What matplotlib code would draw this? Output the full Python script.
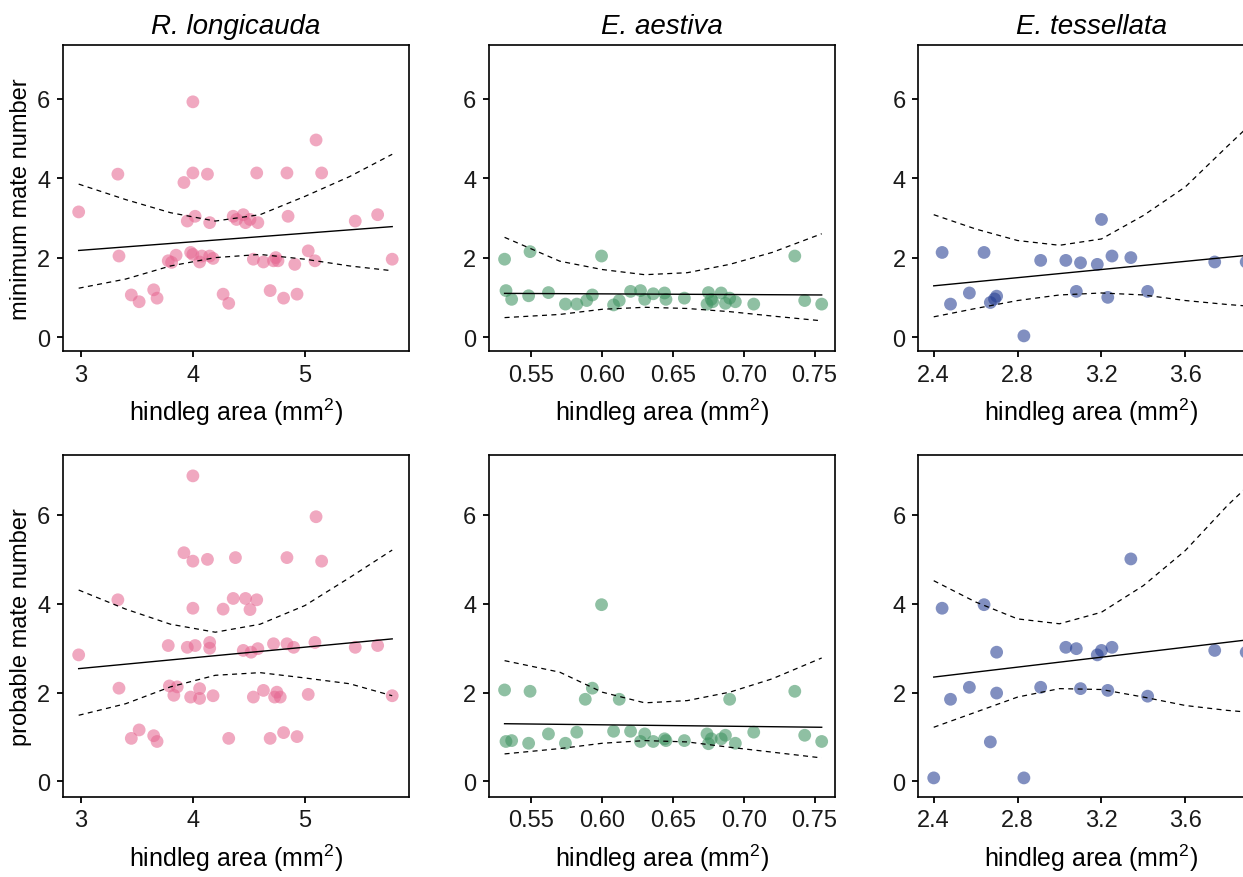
import matplotlib
matplotlib.use("Agg")
import matplotlib.pyplot as plt

plt.rcParams['font.family'] = ['Liberation Sans', 'DejaVu Sans']
plt.rcParams['mathtext.fontset'] = 'custom'
plt.rcParams['mathtext.rm'] = 'Liberation Sans'
plt.rcParams['mathtext.it'] = 'Liberation Sans:italic'

# species names (panel titles)
species = ["R. longicauda", "E. aestiva", "E. tessellata"]

# R. longicauda - minimum mate number
rl_min_x = [2.98, 3.33, 3.34, 3.45, 3.52, 3.65, 3.68, 3.78, 3.81, 3.85, 3.92, 3.95, 4.00, 4.00,
            4.02, 3.98, 4.00, 4.06, 4.08, 4.13, 4.15, 4.15, 4.18, 4.27, 4.32, 4.36, 4.39, 4.45,
            4.47, 4.51, 4.54, 4.57, 4.58, 4.63, 4.69, 4.72, 4.74, 4.76, 4.81, 4.84, 4.85, 4.91,
            4.93, 5.03, 5.09, 5.10, 5.15, 5.45, 5.65, 5.78]
rl_min_y = [3.15, 4.10, 2.04, 1.06, 0.89, 1.19, 0.98, 1.92, 1.88, 2.06, 3.89, 2.92, 5.92, 4.13,
            3.04, 2.13, 2.08, 1.89, 2.04, 4.10, 2.88, 2.04, 1.98, 1.08, 0.85, 3.04, 2.96, 3.08,
            2.88, 2.96, 1.96, 4.13, 2.88, 1.89, 1.17, 1.92, 2.00, 1.92, 0.98, 4.13, 3.04, 1.83,
            1.08, 2.17, 1.92, 4.96, 4.13, 2.92, 3.08, 1.96]

# R. longicauda - probable mate number
rl_prob_x = [2.98, 3.33, 3.34, 3.45, 3.52, 3.65, 3.68, 3.78, 3.79, 3.83, 3.86, 3.92, 3.95, 4.00,
             4.00, 4.00, 3.98, 4.02, 4.06, 4.06, 4.13, 4.15, 4.15, 4.18, 4.27, 4.32, 4.36, 4.38,
             4.45, 4.47, 4.51, 4.52, 4.54, 4.57, 4.58, 4.63, 4.69, 4.72, 4.73, 4.75, 4.78, 4.81,
             4.84, 4.84, 4.90, 4.93, 5.03, 5.09, 5.10, 5.15, 5.45, 5.65, 5.78]
rl_prob_y = [2.85, 4.09, 2.10, 0.97, 1.16, 1.03, 0.90, 3.06, 2.15, 1.94, 2.13, 5.15, 3.02, 6.88,
             4.96, 3.90, 1.90, 3.06, 2.09, 1.87, 5.00, 3.13, 3.00, 1.93, 3.88, 0.97, 4.12, 5.04,
             2.95, 4.12, 3.87, 2.91, 1.90, 4.09, 2.99, 2.05, 0.97, 3.10, 1.90, 2.01, 1.90, 1.10,
             5.04, 3.10, 3.02, 1.01, 1.96, 3.13, 5.96, 4.96, 3.02, 3.06, 1.93]

# E. aestiva - minimum mate number
ea_min_x = [0.531, 0.532, 0.536, 0.549, 0.548, 0.562, 0.574, 0.582, 0.589, 0.593, 0.5995, 0.608,
            0.612, 0.620, 0.627, 0.630, 0.636, 0.644, 0.645, 0.658, 0.675, 0.677, 0.674, 0.678,
            0.684, 0.687, 0.690, 0.694, 0.707, 0.736, 0.743, 0.755]
ea_min_y = [1.96, 1.17, 0.95, 2.15, 1.04, 1.12, 0.83, 0.83, 0.92, 1.06, 2.04, 0.81,
            0.92, 1.15, 1.17, 0.95, 1.09, 1.11, 0.95, 0.98, 1.12, 0.95, 0.83, 0.89,
            1.11, 0.85, 0.98, 0.89, 0.83, 2.04, 0.92, 0.83]

# E. aestiva - probable mate number
ea_prob_x = [0.531, 0.532, 0.536, 0.549, 0.548, 0.562, 0.574, 0.582, 0.588, 0.593, 0.5995, 0.608,
             0.612, 0.620, 0.627, 0.630, 0.636, 0.644, 0.645, 0.658, 0.674, 0.675, 0.677, 0.684,
             0.687, 0.690, 0.694, 0.707, 0.736, 0.743, 0.755]
ea_prob_y = [2.06, 0.90, 0.92, 2.03, 0.86, 1.07, 0.86, 1.11, 1.85, 2.10, 3.98, 1.13,
             1.85, 1.13, 0.90, 1.07, 0.90, 0.96, 0.92, 0.92, 1.07, 0.85, 0.96, 0.96,
             1.04, 1.85, 0.86, 1.11, 2.03, 1.04, 0.90]

# E. tessellata - minimum mate number
et_min_x = [2.44, 2.48, 2.57, 2.64, 2.67, 2.69, 2.70, 2.83, 2.91, 3.03, 3.08, 3.10, 3.18, 3.20,
            3.23, 3.25, 3.34, 3.42, 3.74, 3.89]
et_min_y = [2.13, 0.83, 1.11, 2.13, 0.87, 0.96, 1.03, 0.03, 1.93, 1.93, 1.15, 1.87, 1.83, 2.96,
            1.00, 2.04, 2.00, 1.15, 1.89, 1.89]

# E. tessellata - probable mate number
et_prob_x = [2.40, 2.44, 2.48, 2.57, 2.64, 2.67, 2.70, 2.70, 2.83, 2.91, 3.03, 3.08, 3.10, 3.18,
             3.20, 3.23, 3.25, 3.34, 3.42, 3.74, 3.89]
et_prob_y = [0.08, 3.90, 1.85, 2.12, 3.98, 0.89, 2.91, 1.99, 0.08, 2.12, 3.02, 2.99, 2.09, 2.85,
             2.95, 2.05, 3.02, 5.01, 1.92, 2.95, 2.91]

# fitted lines (end points) and confidence bands
rl_fit_x = [2.98, 5.78]
rl_min_fit = [2.18, 2.78]
rl_prob_fit = [2.54, 3.21]
rl_band_x = [2.98, 3.4, 3.8, 4.2, 4.6, 5.0, 5.4, 5.78]
rl_min_hi = [3.85, 3.46, 3.13, 2.92, 3.08, 3.54, 4.04, 4.60]
rl_min_lo = [1.23, 1.46, 1.79, 2.00, 2.08, 1.96, 1.79, 1.67]
rl_prob_hi = [4.31, 3.88, 3.54, 3.36, 3.54, 3.96, 4.59, 5.21]
rl_prob_lo = [1.49, 1.75, 2.13, 2.39, 2.45, 2.33, 2.20, 1.93]

ea_fit_x = [0.531, 0.755]
ea_min_fit = [1.10, 1.06]
ea_prob_fit = [1.30, 1.22]
ea_band_x = [0.531, 0.57, 0.60, 0.63, 0.66, 0.69, 0.72, 0.755]
ea_min_hi = [2.51, 1.91, 1.70, 1.57, 1.62, 1.83, 2.13, 2.60]
ea_min_lo = [0.49, 0.57, 0.70, 0.75, 0.72, 0.64, 0.53, 0.41]
ea_prob_hi = [2.72, 2.46, 2.01, 1.77, 1.82, 2.01, 2.31, 2.78]
ea_prob_lo = [0.62, 0.74, 0.86, 0.92, 0.89, 0.77, 0.66, 0.53]

et_fit_x = [2.40, 3.90]
et_min_fit = [1.29, 2.06]
et_prob_fit = [2.35, 3.19]
et_band_x = [2.40, 2.6, 2.8, 3.0, 3.2, 3.4, 3.6, 3.8, 3.90]
et_min_hi = [3.08, 2.72, 2.43, 2.31, 2.47, 3.06, 3.78, 4.80, 5.30]
et_min_lo = [0.51, 0.72, 0.92, 1.06, 1.11, 1.06, 0.92, 0.82, 0.78]
et_prob_hi = [4.52, 4.04, 3.66, 3.55, 3.81, 4.41, 5.20, 6.21, 6.66]
et_prob_lo = [1.22, 1.56, 1.90, 2.09, 2.07, 1.90, 1.71, 1.60, 1.56]

colors = ["#E66993", "#3F9361", "#263F93"]
xlims = [(2.84, 5.93), (0.520, 0.7644), (2.325, 3.975)]
xticks = [[3, 4, 5], [0.55, 0.60, 0.65, 0.70, 0.75], [2.4, 2.8, 3.2, 3.6]]
xticklabels = [["3", "4", "5"], ["0.55", "0.60", "0.65", "0.70", "0.75"],
               ["2.4", "2.8", "3.2", "3.6"]]
ylabels = ["minimum mate number", "probable mate number"]

points = [[(rl_min_x, rl_min_y), (ea_min_x, ea_min_y), (et_min_x, et_min_y)],
          [(rl_prob_x, rl_prob_y), (ea_prob_x, ea_prob_y), (et_prob_x, et_prob_y)]]
fits = [[(rl_fit_x, rl_min_fit), (ea_fit_x, ea_min_fit), (et_fit_x, et_min_fit)],
        [(rl_fit_x, rl_prob_fit), (ea_fit_x, ea_prob_fit), (et_fit_x, et_prob_fit)]]
bands = [[(rl_band_x, rl_min_lo, rl_min_hi), (ea_band_x, ea_min_lo, ea_min_hi),
          (et_band_x, et_min_lo, et_min_hi)],
         [(rl_band_x, rl_prob_lo, rl_prob_hi), (ea_band_x, ea_prob_lo, ea_prob_hi),
          (et_band_x, et_prob_lo, et_prob_hi)]]

W, H = 1243, 878
fig = plt.figure(figsize=(W / 100, H / 100), dpi=100)

col_left = [63, 489, 918]
col_width = 346
row_top = [46, 456]
row_bottom = [352, 798]

for r in range(2):
    for c in range(3):
        left = col_left[c] / W
        bottom = 1 - row_bottom[r] / H
        height = (row_bottom[r] - row_top[r]) / H
        ax = fig.add_axes([left, bottom, col_width / W, height])

        px, py = points[r][c]
        ax.scatter(px, py, s=85, color=colors[c], alpha=0.58, edgecolors='none', zorder=2)

        fx, fy = fits[r][c]
        ax.plot(fx, fy, color='black', linewidth=1.0, zorder=3)
        bx, blo, bhi = bands[r][c]
        ax.plot(bx, blo, color='black', linewidth=0.9, linestyle=(0, (4, 3.5)), zorder=3)
        ax.plot(bx, bhi, color='black', linewidth=0.9, linestyle=(0, (4, 3.5)), zorder=3)

        ax.set_xlim(xlims[c])
        ax.set_ylim(-0.35, 7.35)
        ax.set_xticks(xticks[c])
        ax.set_xticklabels(xticklabels[c])
        ax.set_yticks([0, 2, 4, 6])
        ax.tick_params(labelsize=17, length=4, width=1.3, color='black',
                       labelcolor='#1a1a1a', pad=5)
        for sp in ax.spines.values():
            sp.set_color('black')
            sp.set_linewidth(1.2)

        ax.set_xlabel("hindleg area (mm$^2$)", fontsize=18, labelpad=7)
        if c == 0:
            ax.set_ylabel(ylabels[r], fontsize=17, labelpad=4)
        if r == 0:
            ax.set_title(species[c], fontsize=20, style='italic', pad=9)

fig.savefig("out.png", dpi=100)
